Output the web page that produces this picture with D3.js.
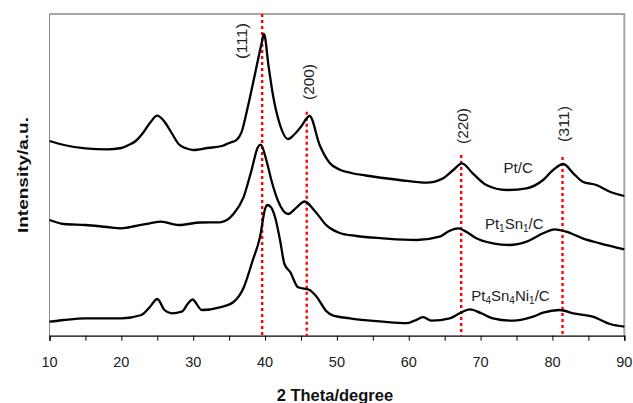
<!DOCTYPE html>
<html>
<head>
<meta charset="utf-8">
<script src="https://cdn.jsdelivr.net/npm/d3@7"></script>
<style>
  html, body { margin: 0; padding: 0; background: #fff; }
  svg { display: block; font-family: 'Liberation Sans', Arial, sans-serif; }
</style>
</head>
<body>
<div id="chart"></div>
<script>
// --- data (2θ in degrees, intensity in arbitrary units) ---
const ptC_theta = [10, 12, 15, 18, 20, 21, 22, 23, 24, 25, 26, 27, 28, 29, 30, 32, 34, 35, 36, 36.7, 37.6, 38.6, 39.5, 39.85,
  40.5, 41.1, 42, 43.2, 44, 45, 46.2, 47.6, 49, 50.5, 52, 54, 58.7, 62.5, 64.8, 66.2, 67.4, 68.9, 70.8, 73.6, 76.4,
  78.7, 80.1, 81.5, 82.9, 84.2, 86.1, 88, 90];
const ptC_int = [194.7, 190.7, 187.4, 186.4, 187.7, 190.7, 194.7, 202.7, 213, 220, 214, 202.7, 191.4, 187.4, 185.7, 187.7, 189.7, 192.7, 195.5, 203, 228.7, 261.7, 291.7, 301.7,
  269, 240.7, 212.7, 196.7, 200.7, 209, 219.7, 190.7, 172.7, 165.7, 162.7, 160.2, 155.7, 153, 157.4, 165.7, 172.4, 162.4, 150.7, 145.7, 147.4,
  155.7, 165.7, 171.7, 162.4, 154, 150.7, 144, 139.7];

const ptSn_theta = [10, 12, 15, 18, 20, 22, 24, 25.5, 28, 31, 33.7, 35.6, 37, 38.1, 39, 39.4, 40.2, 40.9, 41.8, 43.2, 44.4, 45.5,
  46.9, 48.6, 50.4, 52.7, 56.4, 61.1, 64.3, 65.7, 66.9, 68, 69.4, 71.7, 74, 76.4, 78.7, 80.3, 81.9, 84.2, 86.6, 90];
const ptSn_int = [115.7, 111.7, 110.7, 108.7, 107.4, 109.7, 112.4, 114, 110.7, 113.2, 113.4, 121.7, 138.4, 165, 188.4, 191, 175, 155, 135, 121.7, 128.4, 134.2,
  125, 110, 102.7, 99.7, 97.4, 95.7, 99, 105, 107.4, 104, 97.4, 92.4, 90.7, 94, 102.4, 106.4, 104, 97.4, 92.4, 86.4];

const ptSnNi_theta = [10, 12, 15, 20, 22.8, 24, 25, 26, 27, 28.4, 29.3, 29.9, 31.2, 33.7, 35.6, 37, 38.3, 39.3, 40, 40.3, 40.8,
  41.4, 42.1, 42.7, 43.5, 44.6, 46.2, 47.2, 48.6, 49.5, 51.8, 56.4, 59.7, 60.8, 62, 63.2, 65.7, 67.1, 68.5, 70.1, 71.7,
  74.5, 77.3, 78.7, 81, 82.9, 85.6, 88, 90];
const ptSnNi_int = [14, 15.7, 17.4, 17.4, 20.7, 29, 36.7, 25.7, 22.4, 24, 32.4, 36.2, 25.7, 28.4, 33.7, 47.7, 75.7, 98.7, 126.7, 130.7, 128.7,
  118.4, 95, 71.7, 63.7, 48.4, 45.7, 38.7, 24, 20, 17.4, 14, 12.5, 15, 18.5, 15, 17.4, 22.4, 26.4, 22.4, 17.4,
  15, 19, 23, 25.7, 22.4, 19, 11.7, 9];

// reflections: dotted line position and top, label anchor
const peakLabels = ['(111)', '(200)', '(220)', '(311)'];
const peakTheta = [39.6, 45.8, 67.3, 81.4];
const peakLineTop = [321.7, 224, 180.7, 178.7];
const peakLabelTheta = [37.45, 46.8, 68.2, 82.25];
const peakLabelInt = [294.7, 253.7, 209.7, 211.7];

// sample names as [text, subscript] pairs, anchor
const sampleParts = [
  [['Pt', ''], ['/C', '']],
  [['Pt', '1'], ['Sn', '1'], ['/C', '']],
  [['Pt', '4'], ['Sn', '4'], ['Ni', '1'], ['/C', '']]
];
const sampleTheta = [73.2, 70.6, 68.7];
const sampleInt = [163, 106.5, 35];

const xTicks = [10, 15, 20, 25, 30, 35, 40, 45, 50, 55, 60, 65, 70, 75, 80, 85, 90];
const xLabels = [10, 20, 30, 40, 50, 60, 70, 80, 90];

const W = 633, H = 403;
const margin = { top: 14, right: 8.7, bottom: 67.3, left: 49.5 };
const w = W - margin.left - margin.right;
const h = H - margin.top - margin.bottom;

const svg = d3.select('#chart').append('svg').attr('width', W).attr('height', H);
const g = svg.append('g').attr('transform', `translate(${margin.left},${margin.top})`);

const x = d3.scaleLinear().domain([10, 90]).range([0, w]);
const y = d3.scaleLinear().domain([0, h]).range([h, 0]);

// plot frame: top/right in grey
g.append('path')
  .attr('d', `M0,0H${w}V${h}`)
  .attr('fill', 'none').attr('stroke', '#a6a6a6').attr('stroke-width', 2);
g.append('line')
  .attr('x1', 0).attr('x2', 0).attr('y1', 0).attr('y2', h)
  .attr('stroke', '#888').attr('stroke-width', 1);

// x axis
const xAxis = g.append('g').attr('transform', `translate(0,${h})`)
  .call(d3.axisBottom(x).tickValues(xTicks).tickSize(5).tickFormat(''));
xAxis.select('.domain').attr('stroke', '#000').attr('stroke-width', 1.3);
xAxis.selectAll('.tick line').attr('stroke', '#000').attr('stroke-width', 1);
g.selectAll('.xlab').data(xLabels).enter().append('text')
  .attr('x', d => x(d)).attr('y', h + 31)
  .attr('text-anchor', 'middle').attr('font-size', 14.5).attr('fill', '#222')
  .text(d => d);

// dotted reflection lines
g.selectAll('.peak').data(peakTheta).enter().append('line')
  .attr('x1', d => x(d)).attr('x2', d => x(d))
  .attr('y1', (d, i) => y(peakLineTop[i])).attr('y2', h)
  .attr('stroke', '#ff0000').attr('stroke-width', 2.4).attr('stroke-dasharray', '3,3');

// patterns
const line = d3.line().x(d => x(d[0])).y(d => y(d[1])).curve(d3.curveMonotoneX);
const series = [
  [ptC_theta, ptC_int],
  [ptSn_theta, ptSn_int],
  [ptSnNi_theta, ptSnNi_int]
];
series.forEach(([tt, ii]) => {
  g.append('path')
    .attr('d', line(tt.map((t, k) => [t, ii[k]])))
    .attr('fill', 'none').attr('stroke', '#000')
    .attr('stroke-width', 2.3).attr('stroke-linejoin', 'round');
});

// reflection labels
peakLabels.forEach((lab, k) => {
  g.append('text')
    .attr('transform', `translate(${x(peakLabelTheta[k])},${y(peakLabelInt[k])}) rotate(-90)`)
    .attr('text-anchor', 'middle').attr('font-size', 14.5).attr('fill', '#222')
    .attr('textLength', 36).attr('lengthAdjust', 'spacingAndGlyphs')
    .text(lab);
});

// sample names with subscripts
sampleParts.forEach((parts, k) => {
  const t = g.append('text')
    .attr('x', x(sampleTheta[k])).attr('y', y(sampleInt[k]))
    .attr('font-size', 15).attr('fill', '#222');
  let shift = 0;
  parts.forEach(([main, sub]) => {
    t.append('tspan').attr('dy', -shift).text(main);
    shift = 0;
    if (sub) {
      t.append('tspan').attr('font-size', 10).attr('dy', 3).text(sub);
      shift = 3;
    }
  });
});

// axis titles
svg.append('text')
  .attr('x', margin.left + w / 2 - 2).attr('y', 400.5)
  .attr('text-anchor', 'middle').attr('font-size', 16.5).attr('font-weight', 'bold').attr('fill', '#111')
  .text('2 Theta/degree');
svg.append('text')
  .attr('transform', 'translate(27.5,175) rotate(-90)')
  .attr('text-anchor', 'middle').attr('font-size', 15.5).attr('font-weight', 'bold').attr('fill', '#111')
  .attr('textLength', 116).attr('lengthAdjust', 'spacingAndGlyphs')
  .text('Intensity/a.u.');
</script>
</body>
</html>
